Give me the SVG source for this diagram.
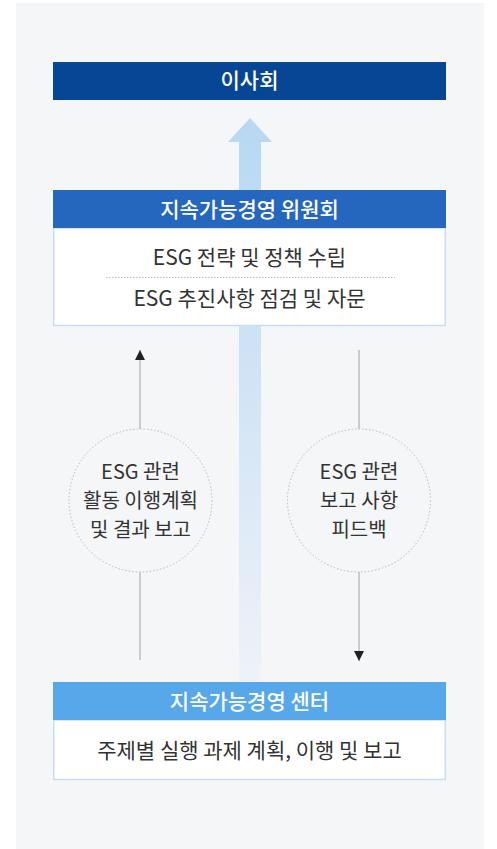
<svg xmlns="http://www.w3.org/2000/svg" width="497" height="849" viewBox="0 0 497 849">
<defs>
<linearGradient id="shaft" x1="0" y1="0" x2="0" y2="1">
<stop offset="0" stop-color="#b9d9f3"/>
<stop offset="1" stop-color="#eef2f8"/>
</linearGradient>
<marker id="ah" viewBox="0 0 10 10" refX="10" refY="5" markerWidth="10" markerHeight="10" markerUnits="userSpaceOnUse" orient="auto">
<path d="M0,0 L10,5 L0,10 Z" fill="#222"/>
</marker>
<style>
text{font-family:"Noto Sans CJK KR","Noto Sans",sans-serif;text-anchor:middle}
.hd{fill:#fff;font-size:21px;font-weight:500}
.bd{fill:#333;font-size:21px}
.ct{fill:#333;font-size:20px}
.box{fill:#fff;stroke:#c7def2;stroke-width:1.5}
.ln{stroke:#b0b0b0;stroke-width:1.2;fill:none}
.cir{fill:none;stroke:#bbb;stroke-width:1;stroke-dasharray:1.5 2}
</style>
</defs>
<rect x="0" y="0" width="497" height="849" fill="#fff"/>
<rect x="16" y="3" width="468" height="846" fill="#f5f6f8"/>
<g id="flow">
<rect x="239" y="141" width="22" height="540" fill="url(#shaft)"/>
<polygon points="250,118 272,142 228,142" fill="#b9d9f3"/>
</g>
<g id="board">
<rect x="53" y="62" width="393" height="38" fill="#064695"/>
<text class="hd" x="249.5" y="88">이사회</text>
</g>
<g id="committee">
<rect class="box" x="53.75" y="228" width="391.5" height="97.5"/>
<rect x="53" y="190" width="393" height="38" fill="#2566be"/>
<text class="hd" x="249.5" y="216.5">지속가능경영 위원회</text>
<text class="bd" x="249.5" y="264.5">ESG 전략 및 정책 수립</text>
<line x1="106" y1="277.5" x2="395" y2="277.5" stroke="#bbb" stroke-width="1" stroke-dasharray="1.5 1.5"/>
<text class="bd" x="249.5" y="305.5">ESG 추진사항 점검 및 자문</text>
</g>
<g id="center">
<rect class="box" x="53.75" y="720" width="391.5" height="59.5"/>
<rect x="53" y="682" width="393" height="38" fill="#57a8ea"/>
<text class="hd" x="249.5" y="709">지속가능경영 센터</text>
<text class="bd" x="249.5" y="757.5">주제별 실행 과제 계획, 이행 및 보고</text>
</g>
<g id="connectors">
<line class="ln" x1="140" y1="660" x2="140" y2="572"/>
<line class="ln" x1="140" y1="429" x2="140" y2="350" marker-end="url(#ah)"/>
<line class="ln" x1="359" y1="350" x2="359" y2="429"/>
<line class="ln" x1="359" y1="572" x2="359" y2="661" marker-end="url(#ah)"/>
</g>
<g id="report">
<circle class="cir" cx="140.5" cy="500.5" r="71.5"/>
<text class="ct" x="140.5" y="479">ESG 관련</text>
<text class="ct" x="140.5" y="508">활동 이행계획</text>
<text class="ct" x="140.5" y="537">및 결과 보고</text>
</g>
<g id="feedback">
<circle class="cir" cx="359" cy="500.5" r="71.5"/>
<text class="ct" x="359" y="479">ESG 관련</text>
<text class="ct" x="359" y="508">보고 사항</text>
<text class="ct" x="359" y="537">피드백</text>
</g>
</svg>
